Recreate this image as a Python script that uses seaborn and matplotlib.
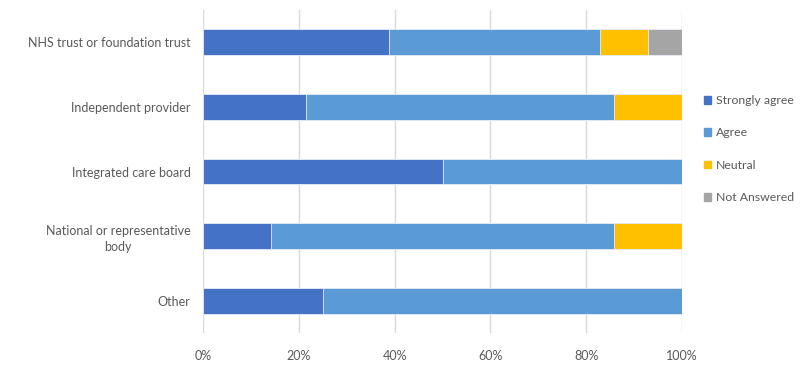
import matplotlib
matplotlib.use('Agg')
import matplotlib.pyplot as plt
import matplotlib.patches as mpatches
import seaborn as sns
import pandas as pd
import numpy as np

# Data (percent of respondents)
organisations = ['NHS trust or foundation trust', 'Independent provider',
                 'Integrated care board', 'National or representative\nbody', 'Other']
responses = ['Strongly agree', 'Agree', 'Neutral', 'Not Answered']
strongly_agree = [38.9, 21.4, 50.0, 14.3, 25.0]
agree = [43.9, 64.3, 50.0, 71.4, 75.0]
neutral = [10.0, 14.3, 0.0, 14.3, 0.0]
not_answered = [7.2, 0.0, 0.0, 0.0, 0.0]

colors = ['#4472C4', '#5B9BD5', '#FFC000', '#A5A5A5']

df = pd.DataFrame({'Organisation': organisations,
                   'Strongly agree': strongly_agree,
                   'Agree': agree,
                   'Neutral': neutral,
                   'Not Answered': not_answered})
cum = df[responses].cumsum(axis=1)
cum['Organisation'] = df['Organisation']

sns.set_theme(style='white')
plt.rcParams['font.family'] = ['Lato', 'DejaVu Sans']

fig = plt.figure(figsize=(8.03, 3.71), dpi=100)
ax = fig.add_axes([203 / 803, 1 - 333 / 371, 479 / 803, 323 / 371])

# stacked bars: draw cumulative totals from the last series back to the first
for resp, col in reversed(list(zip(responses, colors))):
    sns.barplot(data=cum, x=resp, y='Organisation', color=col, orient='h',
                width=0.4, saturation=1, ax=ax, linewidth=0.6, edgecolor='#e8eef8')

ax.set_xlim(0, 100)
ax.set_xticks(np.arange(0, 101, 20))
ax.set_xticklabels([f'{t}%' for t in range(0, 101, 20)])
ax.set_xlabel('')
ax.set_ylabel('')
ax.grid(axis='x', color='#d9d9d9', linewidth=1)
ax.set_axisbelow(True)
for s in ax.spines.values():
    s.set_visible(False)
ax.tick_params(axis='both', length=0, labelsize=9, labelcolor='#595959')
ax.tick_params(axis='y', pad=9)
ax.tick_params(axis='x', pad=12)
for lbl in ax.get_yticklabels():
    lbl.set_multialignment('center')
    lbl.set_linespacing(1.4)

handles = [mpatches.Patch(color=c, label=r) for r, c in zip(responses, colors)]
fig.legend(handles=handles, loc='upper left', bbox_to_anchor=(693 / 803, 1 - 84 / 371),
           frameon=False, fontsize=8.8, labelcolor='#595959', handlelength=0.6,
           handleheight=0.6, handletextpad=0.4, labelspacing=1.75)

fig.savefig('out.png', dpi=100)
